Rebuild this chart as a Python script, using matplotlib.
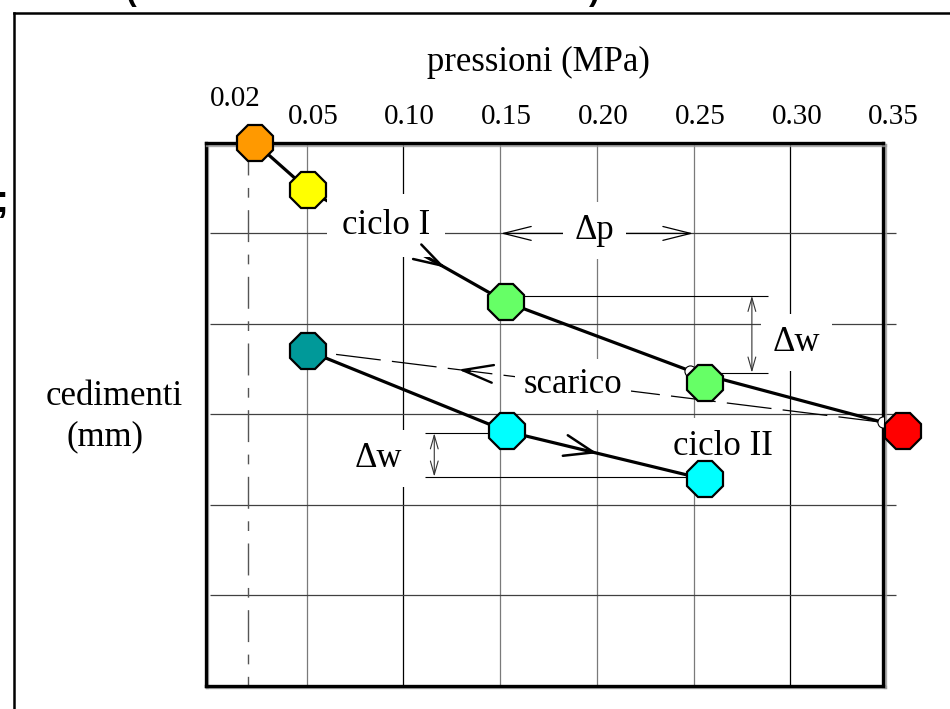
import matplotlib
matplotlib.use('Agg')
import matplotlib.pyplot as plt
from matplotlib.lines import Line2D
from matplotlib.transforms import offset_copy
import matplotlib.patheffects as pe
import numpy as np

# ---------------- data ----------------
tick_values = [0.02, 0.05, 0.10, 0.15, 0.20, 0.25, 0.30, 0.35]
tick_labels = ['0.02', '0.05', '0.10', '0.15', '0.20', '0.25', '0.30', '0.35']
grid_p = [0.05, 0.10, 0.15, 0.20, 0.25, 0.30]
grid_w = [1, 2, 3, 4, 5]

# ciclo I (carico): line nodes and marker positions
load_p = [0.0235, 0.0509, 0.1531, 0.2482, 0.3479]
load_w = [0.00, 0.52, 1.76, 2.52, 3.09]
load_marker_p = [0.0235, 0.0509, 0.1531, 0.2560, 0.3583]
load_marker_w = [0.00, 0.52, 1.76, 2.65, 3.19]
load_colors = ['#FF9900', '#FFFF00', '#66FF66', '#66FF66', '#FF0000']

# scarico
unload_p = [0.3479, 0.0509]
unload_w = [3.09, 2.30]

# ciclo II (ricarico)
reload_p = [0.0509, 0.1536, 0.2560]
reload_w = [2.30, 3.19, 3.72]
reload_colors = ['#009999', '#00FFFF', '#00FFFF']

plt.rcParams['font.family'] = ['Liberation Serif', 'DejaVu Serif']

W, H = 950, 709
fig = plt.figure(figsize=(W / 100, H / 100), dpi=100)
ax = fig.add_axes([205.7 / W, 1 - 685.5 / H, (883.3 - 205.7) / W, (685.5 - 143) / H])
ax.set_xlim(-0.0021, 0.348)
ax.set_ylim(6, 0)
ax.set_xticks([])
ax.set_yticks([])
for s in ax.spines.values():
    s.set_linewidth(2.4)
    s.set_color('black')
    s.set_path_effects([pe.SimpleLineShadow(offset=(1.2, -1.2), shadow_color='#999999', alpha=0.8),
                        pe.Normal()])

# grid
vcolors = ['#7a7a7a', '#000000', '#7a7a7a', '#7a7a7a', '#7a7a7a', '#000000']
for gp, c in zip(grid_p, vcolors):
    ax.vlines(gp, 0, 6, color=c, lw=0.9, zorder=1)
ax.hlines(grid_w, 0.0002, 0.3546, color='#404040', lw=0.9, zorder=1, clip_on=False)
ax.vlines(tick_values[0], 0, 6, color='#555555', lw=1.0, zorder=1,
          linestyles=[(0, (23, 9, 7, 9))])

# tick labels at the top
for v, lab in zip(tick_values, tick_labels):
    if lab == '0.02':
        tr = offset_copy(ax.get_xaxis_transform(), fig=fig, x=-13, y=0, units='dots')
        yb = (685.5 - 106) / 542.5
    else:
        tr = offset_copy(ax.get_xaxis_transform(), fig=fig, x=6.5, y=0, units='dots')
        yb = (685.5 - 124) / 542.5
    ax.text(v, yb, lab, transform=tr, ha='center', va='baseline', fontsize=21,
            clip_on=False)

# axis titles
fig.text(538 / W, 1 - 70.7 / H, 'pressioni (MPa)', ha='center', va='baseline', fontsize=25)
fig.text(114 / W, 1 - 405 / H, 'cedimenti', ha='center', va='baseline', fontsize=25)
fig.text(105 / W, 1 - 445 / H, '(mm)', ha='center', va='baseline', fontsize=25)

# main curves
ax.plot(load_p, load_w, color='black', lw=2.3, zorder=4, solid_capstyle='round')
ax.plot(unload_p, unload_w, color='black', lw=0.9, zorder=3, linestyle=(0, (36, 9)))
ax.plot(reload_p, reload_w, color='black', lw=2.3, zorder=5.5)

# small white node circles
ax.plot(load_p, load_w, linestyle='none', marker='o', ms=8, mfc='white', mec='black',
        mew=0.8, zorder=6)

# octagon markers
for p, w, c in zip(load_marker_p, load_marker_w, load_colors):
    ax.plot([p], [w], marker='8', ms=27.5, mfc=c, mec='black', mew=1.6, zorder=7, clip_on=False)
for p, w, c in zip(reload_p, reload_w, reload_colors):
    ax.plot([p], [w], marker='8', ms=27.5, mfc=c, mec='black', mew=1.6, zorder=7, clip_on=False)


def along(px, py, i, t):
    x = px[i] + t * (px[i + 1] - px[i])
    y = py[i] + t * (py[i + 1] - py[i])
    x0 = px[i] + (t - 0.02) * (px[i + 1] - px[i])
    y0 = py[i] + (t - 0.02) * (py[i + 1] - py[i])
    return (x, y), (x0, y0)


def dir_arrow(px, py, i, t, lw=1.8, hl=1.05, hw=0.36, z=5):
    tip, tail = along(px, py, i, t)
    ax.annotate('', xy=tip, xytext=tail,
                arrowprops=dict(arrowstyle='->,head_length=%g,head_width=%g' % (hl, hw),
                                lw=lw, color='black', shrinkA=0, shrinkB=0,
                                mutation_scale=20),
                zorder=z)


dir_arrow(load_p, load_w, 1, 0.692, hl=1.0, hw=0.3, z=5.2)
dir_arrow(unload_p, unload_w, 0, 0.739, lw=1.7, hl=1.1, hw=0.32)
dir_arrow(reload_p, reload_w, 1, 0.455, z=5.6, hw=0.38)

# dimension: delta p
ax.annotate('', xy=(0.1504, 1.0), xytext=(0.2498, 1.0),
            arrowprops=dict(arrowstyle='<->,head_length=1.0,head_width=0.25', lw=0.9,
                            color='black', shrinkA=0, shrinkB=0, mutation_scale=20),
            zorder=2)

# dimension: delta w (ciclo I)
ax.hlines([1.69], 0.1531, 0.2885, color='black', lw=0.8, zorder=2)
ax.hlines([2.54], 0.2560, 0.2885, color='black', lw=0.8, zorder=2)
ax.annotate('', xy=(0.2801, 1.69), xytext=(0.2801, 2.54),
            arrowprops=dict(arrowstyle='<->,head_length=0.7,head_width=0.2', lw=0.8,
                            color='#333333', shrinkA=0, shrinkB=0, mutation_scale=14),
            zorder=2)

# dimension: delta w (ciclo II)
ax.hlines([3.21], 0.1113, 0.1536, color='black', lw=0.8, zorder=2)
ax.hlines([3.69], 0.1113, 0.2560, color='black', lw=0.8, zorder=2)
ax.annotate('', xy=(0.1160, 3.21), xytext=(0.1160, 3.69),
            arrowprops=dict(arrowstyle='<->,head_length=0.7,head_width=0.2', lw=0.8,
                            color='#333333', shrinkA=0, shrinkB=0, mutation_scale=14),
            zorder=2)

# labels with white boxes
box = dict(boxstyle='square,pad=0.35', fc='white', ec='none')
ax.text(0.0911, 1.007, 'ciclo I', ha='center', va='baseline', fontsize=25,
        bbox=dict(boxstyle='square,pad=0.42', fc='white', ec='none'), zorder=5)
ax.text(0.1988, 1.06, '\u0394p', ha='center', va='baseline', fontsize=25, bbox=box, zorder=5)
ax.text(0.1877, 2.765, 'scarico', ha='center', va='baseline', fontsize=25,
        bbox=dict(boxstyle='square,pad=0.25', fc='white', ec='none'), zorder=5)
ax.text(0.2654, 3.45, 'ciclo II', ha='center', va='baseline', fontsize=25, bbox=box, zorder=5)
ax.text(0.3032, 2.30, '\u0394w', ha='center', va='baseline', fontsize=25, bbox=box, zorder=5)
ax.text(0.0872, 3.58, '\u0394w', ha='center', va='baseline', fontsize=25, bbox=box, zorder=5)

# page frame and clipped slide text
fig.add_artist(Line2D([14 / W, 14 / W], [0, 1 - 13 / H], color='black', lw=1.8))
fig.add_artist(Line2D([14 / W, 1], [1 - 13 / H, 1 - 13 / H], color='black', lw=1.8))
fig.text(131 / W, 1.0, '(', ha='center', va='baseline', fontsize=23, weight='bold',
         family='Liberation Sans')
fig.text(594 / W, 1.0, ')', ha='center', va='baseline', fontsize=23, weight='bold',
         family='Liberation Sans')
fig.text(8 / W, 1 - 212 / H, ';', ha='right', va='baseline', fontsize=28, weight='bold',
         family='Liberation Sans')

fig.savefig('out.png', dpi=100)
